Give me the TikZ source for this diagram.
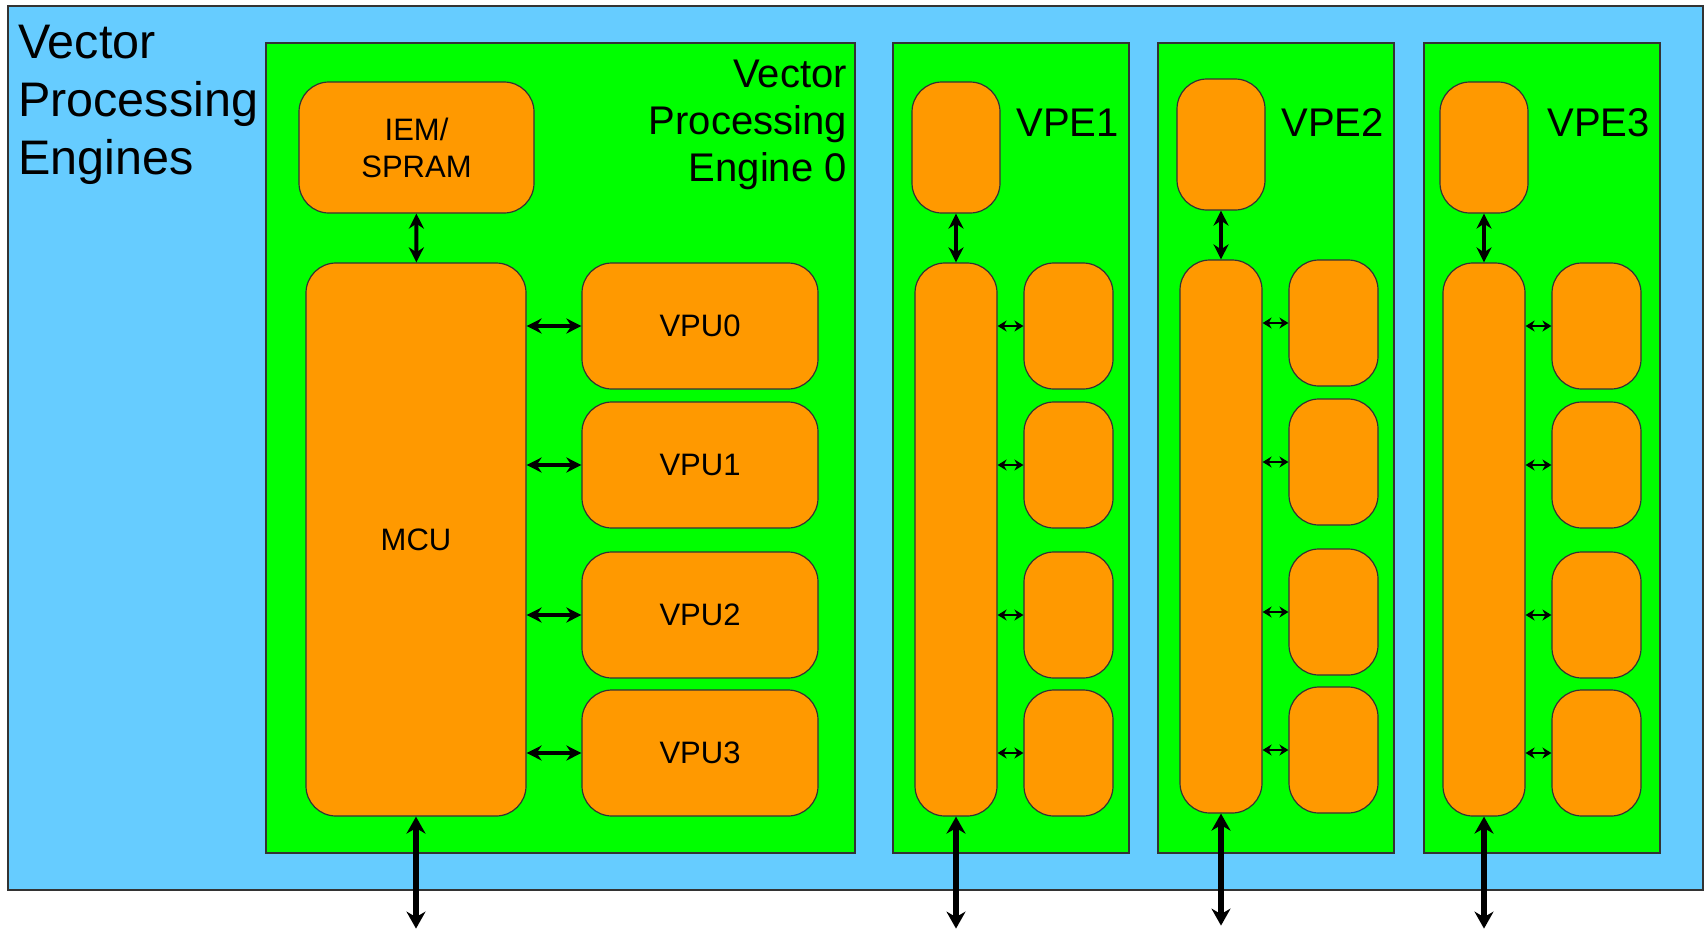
\documentclass[tikz,border=0pt]{standalone}
\usepackage{fontspec}
\setmainfont{Liberation Sans}
\usetikzlibrary{arrows.meta, positioning, calc}

\definecolor{vpblue}{HTML}{66CCFF}
\definecolor{vpgreen}{HTML}{00FF00}
\definecolor{vporange}{HTML}{FF9900}

\tikzset{
  engine/.style={draw=black!80, line width=1.2pt},
  block/.style={draw=black!80, fill=vporange, line width=1.2pt, rounded corners=30pt,
    inner sep=0pt, align=center, font=\fontsize{31}{37}\selectfont},
  bigbus/.style={<->, >={Stealth[length=15pt, width=15pt]}, line width=4pt},
  iobus/.style={<->, >={Stealth[length=17pt, width=19pt]}, line width=5.5pt},
  smallbus/.style={<->, >={Stealth[length=9pt, width=11pt]}, line width=2.8pt},
}

\begin{document}
\begin{tikzpicture}[x=1pt, y=-1pt]
  \useasboundingbox (0,0) rectangle (1707,929);
  \draw[engine, fill=vpblue] (8,6) rectangle (1703,890);
  \node[anchor=north west, align=left, inner sep=0pt, font=\fontsize{48.5}{58}\selectfont]
    (title) at (18,25) {Vector\\Processing\\Engines};

  % engine 0
  \draw[engine, fill=vpgreen] (266,43) rectangle (855,853);
  \node[anchor=north east, align=right, inner sep=0pt, font=\fontsize{40}{47}\selectfont]
    (vpe0) at (847,60) {Vector\\Processing\\Engine 0};
  \node[block, minimum width=235, minimum height=131] (iem) at (416.5,147.5) {IEM/\\SPRAM};
  \node[block, minimum width=220, minimum height=553] (mcu0) at (416,539.5) {MCU};
  \foreach \i/\y in {0/326, 1/465, 2/615, 3/753} {
    \node[block, minimum width=236, minimum height=126] (vpu0\i) at (700,\y) {VPU\i};
    \draw[bigbus] (mcu0.east |- vpu0\i.west) -- (vpu0\i.west);
  }
  \draw[bigbus] (iem) -- (mcu0);
  \coordinate (out0) at ($(mcu0.south)+(0,112)$);
  \draw[iobus] (mcu0.south) -- (out0);

  % engines 1-3
  \foreach \k/\xl/\dx/\dy in {1/893/0/0, 2/1158/0/-3, 3/1424/-3/0} {
    \draw[engine, fill=vpgreen] (\xl,43) rectangle ++(236,810);
    \node[anchor=base east, inner sep=0pt, font=\fontsize{40}{47}\selectfont]
      (vpe\k) at ({\xl+226},136) {VPE\k};
    \node[block, minimum width=88, minimum height=131] (mem\k) at ({\xl+63+\dx},{147.5+\dy}) {};
    \node[block, minimum width=82, minimum height=553] (mcu\k) at ({\xl+63+\dx},{539.5+\dy}) {};
    \foreach \i/\y in {0/326, 1/465, 2/615, 3/753} {
      \node[block, minimum width=89, minimum height=126] (vpu\k\i) at ({\xl+175.5+\dx},{\y+\dy}) {};
      \draw[smallbus] (mcu\k.east |- vpu\k\i.west) -- (vpu\k\i.west);
    }
    \draw[bigbus] (mem\k) -- (mcu\k);
    \coordinate (out\k) at ($(mcu\k.south)+(0,112)$);
    \draw[iobus] (mcu\k.south) -- (out\k);
  }
\end{tikzpicture}
\end{document}
